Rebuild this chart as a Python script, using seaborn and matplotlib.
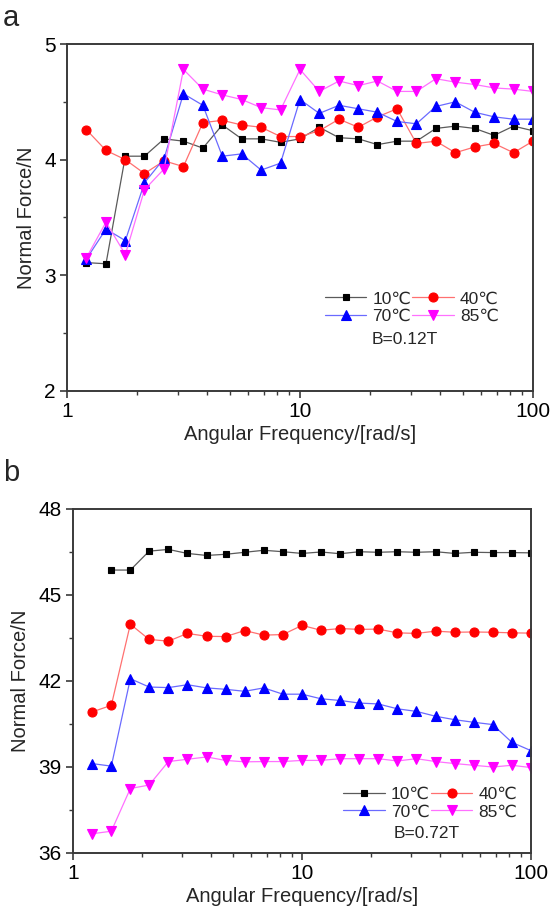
import numpy as np
import pandas as pd
import matplotlib
matplotlib.use("Agg")
import matplotlib.pyplot as plt
import seaborn as sns
from matplotlib.ticker import FixedLocator, LogLocator, NullFormatter

# ---------------- data ----------------
freq = [1.21, 1.47, 1.78, 2.15, 2.61, 3.16, 3.83, 4.64, 5.62, 6.81, 8.25, 10.0,
        12.1, 14.7, 17.8, 21.5, 26.1, 31.6, 38.3, 46.4, 56.2, 68.1, 82.5, 100.0]
labels = ["10℃", "40℃", "70℃", "85℃"]

# panel a (B=0.12T)
a_10 = [3.11, 3.10, 4.03, 4.03, 4.18, 4.16, 4.10, 4.30, 4.18, 4.18, 4.15, 4.18,
        4.28, 4.19, 4.18, 4.13, 4.16, 4.16, 4.27, 4.29, 4.27, 4.21, 4.29, 4.25]
a_40 = [4.26, 4.08, 4.00, 3.88, 3.99, 3.94, 4.32, 4.34, 4.30, 4.28, 4.20, 4.20,
        4.25, 4.35, 4.28, 4.37, 4.44, 4.14, 4.16, 4.06, 4.11, 4.14, 4.06, 4.16]
a_70 = [3.14, 3.40, 3.30, 3.80, 4.01, 4.57, 4.47, 4.03, 4.05, 3.91, 3.97, 4.52,
        4.40, 4.47, 4.44, 4.41, 4.33, 4.31, 4.46, 4.50, 4.41, 4.37, 4.35, 4.35]
a_85 = [3.15, 3.46, 3.18, 3.74, 3.92, 4.78, 4.61, 4.56, 4.52, 4.45, 4.43, 4.78,
        4.59, 4.68, 4.64, 4.68, 4.59, 4.59, 4.70, 4.67, 4.65, 4.62, 4.61, 4.59]

# panel b (B=0.72T); 10℃ series starts at the second frequency
b_10 = [45.87, 45.87, 46.53, 46.59, 46.45, 46.38, 46.42, 46.49, 46.56, 46.51, 46.45,
        46.50, 46.44, 46.51, 46.49, 46.51, 46.49, 46.51, 46.45, 46.49, 46.48, 46.48, 46.47]
b_40 = [40.92, 41.15, 43.98, 43.45, 43.39, 43.66, 43.56, 43.55, 43.76, 43.60, 43.62, 43.94,
        43.77, 43.83, 43.80, 43.81, 43.68, 43.66, 43.74, 43.70, 43.71, 43.70, 43.68, 43.67]
b_70 = [39.12, 39.03, 42.08, 41.79, 41.77, 41.87, 41.76, 41.71, 41.64, 41.76, 41.54, 41.54,
        41.38, 41.32, 41.23, 41.20, 41.03, 40.94, 40.77, 40.65, 40.56, 40.48, 39.86, 39.57]
b_85 = [36.67, 36.76, 38.25, 38.37, 39.19, 39.27, 39.35, 39.23, 39.18, 39.19, 39.19, 39.23,
        39.23, 39.29, 39.29, 39.29, 39.21, 39.29, 39.19, 39.12, 39.06, 39.00, 39.06, 38.98]

# ---------------- style ----------------
sns.set_style("ticks")
plt.rcParams["font.family"] = ["Liberation Sans", "DejaVu Sans"]
plt.rcParams["axes.edgecolor"] = "#3a3a3a"
plt.rcParams["xtick.color"] = "#3a3a3a"
plt.rcParams["ytick.color"] = "#3a3a3a"
plt.rcParams["xtick.labelcolor"] = "black"
plt.rcParams["ytick.labelcolor"] = "black"

styles = [
    dict(marker="s", ms=5.0, mc="#000000", lc="#5a5a5a"),
    dict(marker="o", ms=6.5, mc="#ff0000", lc="#ff7070"),
    dict(marker="^", ms=7.0, mc="#0000ff", lc="#6a6aff"),
    dict(marker="v", ms=7.0, mc="#ff00ff", lc="#ff70ff"),
]

fig = plt.figure(figsize=(5.55, 9.07), dpi=100)
ax_a = fig.add_axes([67 / 555, 1 - 391 / 907, 466 / 555, 347 / 907])
ax_b = fig.add_axes([73 / 555, 1 - 853 / 907, 458 / 555, 344 / 907])


def draw(ax, series, ylim, yticks, yminor, legend_xy, btext, bxy):
    for (xs, ys), lab, st in zip(series, labels, styles):
        df = pd.DataFrame({"freq": xs, "force": ys})
        sns.lineplot(data=df, x="freq", y="force", ax=ax, sort=False, errorbar=None,
                     color=st["lc"], linewidth=0.9, marker=st["marker"],
                     markersize=st["ms"], markerfacecolor=st["mc"],
                     markeredgecolor=st["mc"], markeredgewidth=0.8, label=lab)
    ax.set_xscale("log")
    ax.set_xlim(1, 100)
    ax.set_ylim(*ylim)
    ax.set_xticks([1, 10, 100])
    ax.set_xticklabels(["1", "10", "100"])
    ax.xaxis.set_minor_locator(LogLocator(base=10, subs=np.arange(2, 10)))
    ax.xaxis.set_minor_formatter(NullFormatter())
    ax.set_yticks(yticks)
    ax.set_yticklabels([str(t) for t in yticks])
    ax.yaxis.set_minor_locator(FixedLocator(yminor))
    ax.tick_params(which="major", direction="out", length=5, width=1.2,
                   labelsize=15, pad=3, top=False, right=False)
    ax.tick_params(which="minor", direction="out", length=3, width=1.0,
                   top=False, right=False)
    for sp in ax.spines.values():
        sp.set_linewidth(1.4)
    ax.set_xlabel("Angular Frequency/[rad/s]", fontsize=14.5, labelpad=3)
    ax.set_ylabel("Normal Force/N", fontsize=14.5, labelpad=6)
    h, l = ax.get_legend_handles_labels()
    order = [0, 2, 1, 3]
    ax.legend([h[i] for i in order], [l[i] for i in order], ncol=2, frameon=False,
              loc="center", bbox_to_anchor=legend_xy, fontsize=12.5,
              handlelength=2.4, handletextpad=0.35, columnspacing=0.05,
              labelspacing=0.15, borderpad=0.1)
    ax.text(bxy[0], bxy[1], btext, transform=ax.transAxes, ha="center",
            va="center", fontsize=12.5)


draw(ax_a, [(freq, a_10), (freq, a_40), (freq, a_70), (freq, a_85)],
     (2, 5), [2, 3, 4, 5], [2.5, 3.5, 4.5], (0.74, 0.24), "B=0.12T", (0.725, 0.147))
draw(ax_b, [(freq[1:], b_10), (freq, b_40), (freq, b_70), (freq, b_85)],
     (36, 48), [36, 39, 42, 45, 48], [37.5, 40.5, 43.5, 46.5], (0.78, 0.145),
     "B=0.72T", (0.773, 0.058))

fig.text(3 / 555, 1 - 18 / 907, "a", fontsize=21, ha="left", va="center")
fig.text(3 / 555, 1 - 473 / 907, "b", fontsize=21, ha="left", va="center")

fig.savefig("out.png", dpi=100)
